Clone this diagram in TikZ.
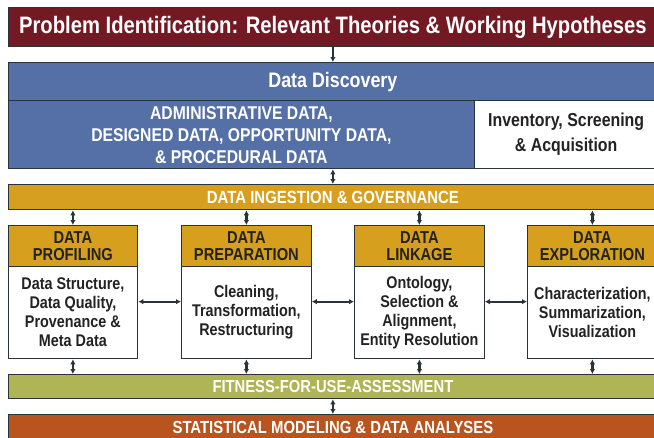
\documentclass[tikz,border=0pt]{standalone}
\usepackage{fontspec}
\setmainfont{Liberation Sans}[FakeStretch=0.85]
\usetikzlibrary{arrows.meta}
\definecolor{maroon}{RGB}{115,25,36}
\definecolor{dblue}{RGB}{84,112,166}
\definecolor{gold}{RGB}{214,160,30}
\definecolor{olive}{RGB}{175,180,85}
\definecolor{rust}{RGB}{185,84,30}
\definecolor{bord}{RGB}{40,52,58}
\definecolor{ink}{RGB}{34,34,34}
\tikzset{
  blk/.style={draw=bord, line width=1.3pt, rectangle, inner sep=0pt, anchor=north west, align=center, font=\bfseries},
  wide/.style={blk, minimum width=649.5pt},
  hdr/.style={blk, fill=gold, text=ink, minimum width=129.5pt, minimum height=41pt, font=\bfseries\fontsize{17.3}{17}\selectfont},
  body/.style={blk, fill=white, text=ink, minimum width=129.5pt, minimum height=92pt, font=\bfseries\fontsize{16.9}{19}\selectfont},
  dbl/.style={draw=bord, line width=2.2pt, {Latex[length=5pt,width=5.5pt]}-{Latex[length=5pt,width=5.5pt]}},
  sgl/.style={draw=bord, line width=1.8pt, -{Latex[length=5pt,width=5.5pt]}}
}
\begin{document}
\begin{tikzpicture}[x=1pt,y=-1pt]
\useasboundingbox (0,0) rectangle (654,437);
\clip (0,0) rectangle (654,437);
% top
\node[wide, fill=maroon, text=white, minimum height=39pt, font=\bfseries\fontsize{23.8}{26}\selectfont] (title) at (7.5,7) {Problem Identification: Relevant Theories \& Working Hypotheses};
% discovery
\node[wide, fill=dblue, text=white, minimum height=38pt, font=\bfseries\fontsize{21}{22}\selectfont] (discH) at (7.5,62) {Data Discovery};
\node[blk, fill=dblue, text=white, minimum width=466.5pt, minimum height=68pt, font=\bfseries\fontsize{18.5}{22}\selectfont] (discL) at (7.5,100) {ADMINISTRATIVE DATA,\\DESIGNED DATA, OPPORTUNITY DATA,\\\& PROCEDURAL DATA};
\node[blk, fill=white, text=ink, minimum width=183pt, minimum height=68pt, font=\bfseries\fontsize{18.7}{25}\selectfont] (discR) at (474,100) {Inventory, Screening\\\& Acquisition};
% ingestion
\node[wide, fill=gold, text=white, minimum height=25pt, font=\bfseries\fontsize{17.6}{18}\selectfont] (ingest) at (7.5,184) {DATA INGESTION \& GOVERNANCE};
% boxes
\node[hdr] (profH) at (7.5,225) {DATA\\PROFILING};
\node[body] (profB) at (7.5,266) {Data Structure,\\Data Quality,\\Provenance \&\\Meta Data};
\node[hdr] (prepH) at (181,225) {DATA\\PREPARATION};
\node[body] (prepB) at (181,266) {Cleaning,\\Transformation,\\Restructuring};
\node[hdr] (linkH) at (354,225) {DATA\\LINKAGE};
\node[body] (linkB) at (354,266) {Ontology,\\Selection \&\\Alignment,\\Entity Resolution};
\node[hdr] (explH) at (527,225) {DATA\\EXPLORATION};
\node[body] (explB) at (527,266) {Characterization,\\Summarization,\\Visualization};
% fitness & stats
\node[wide, fill=olive, text=white, minimum height=24pt, font=\bfseries\fontsize{17.4}{18}\selectfont] (fit) at (7.5,374) {FITNESS-FOR-USE-ASSESSMENT};
\node[wide, fill=rust, text=white, minimum height=25pt, font=\bfseries\fontsize{17.5}{19}\selectfont] (stat) at (7.5,414) {STATISTICAL MODELING \& DATA ANALYSES};
% connectors
\draw[sgl] (title.south) -- (discH.north);
\draw[dbl] (ingest.north |- discL.south) -- (ingest.north);
\foreach \n in {prof,prep,link,expl}{
  \draw[dbl] (\n H.north |- ingest.south) -- (\n H.north);
  \draw[dbl] (\n B.south) -- (\n B.south |- fit.north);
}
\draw[dbl] ([yshift=11pt]profB.east) -- ([yshift=11pt]prepB.west);
\draw[dbl] ([yshift=11pt]prepB.east) -- ([yshift=11pt]linkB.west);
\draw[dbl] ([yshift=11pt]linkB.east) -- ([yshift=11pt]explB.west);
\draw[dbl] (fit.south) -- (stat.north);
\end{tikzpicture}
\end{document}
